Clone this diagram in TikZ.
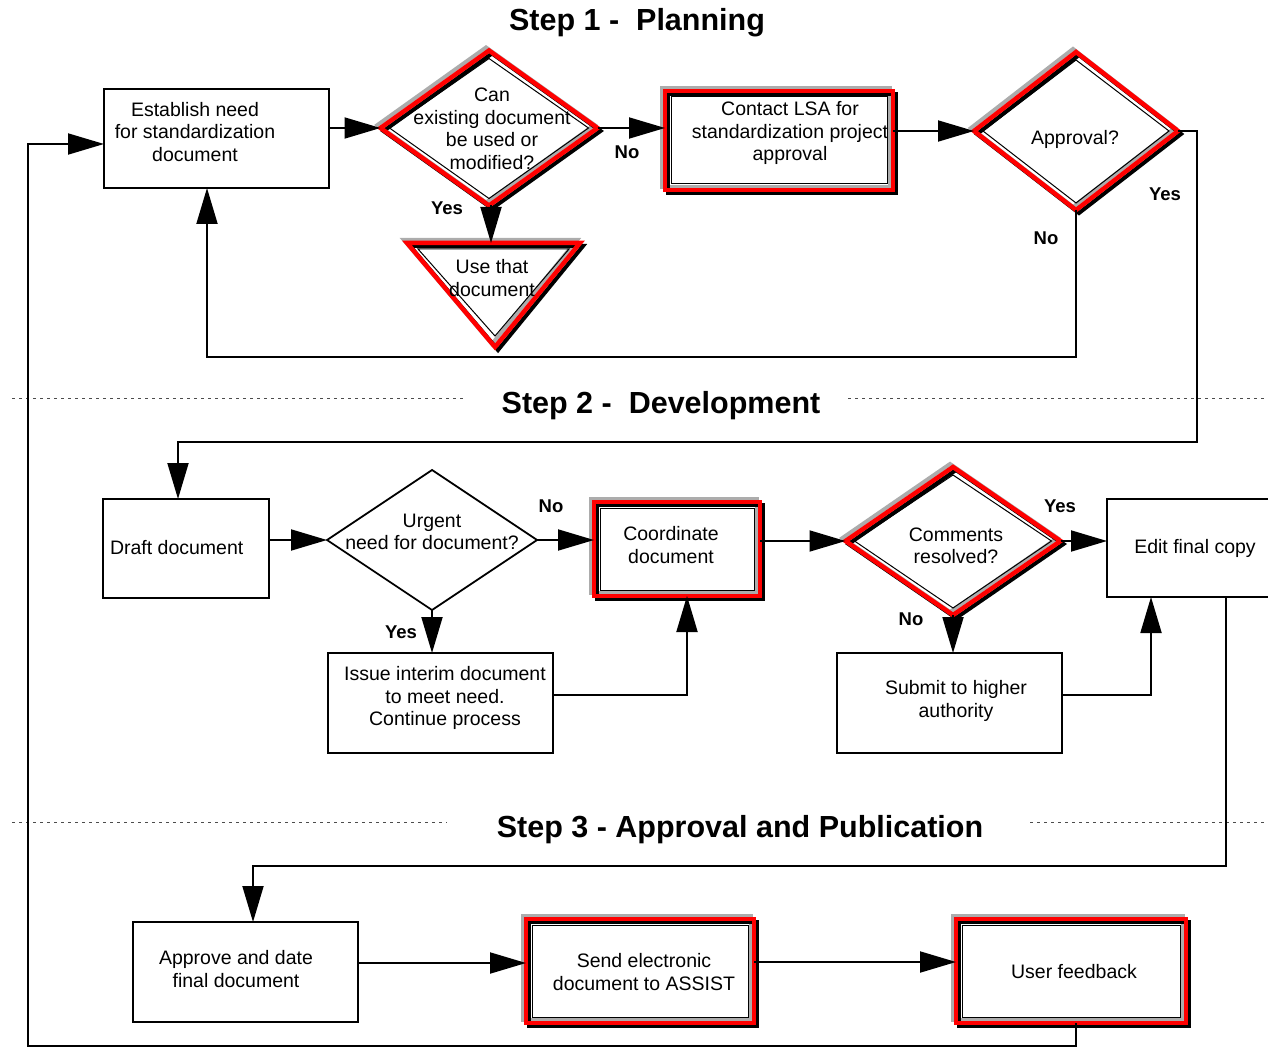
\documentclass[tikz,border=0pt]{standalone}
\usepackage{fontspec}
\setmainfont{Liberation Sans}
\usetikzlibrary{shapes.geometric,arrows.meta,fit}
\begin{document}
\begin{tikzpicture}[x=1pt,y=-1pt,
  every node/.style={inner sep=0pt, outer sep=0pt},
  box/.style={draw=black, line width=1.8pt},
  redframe/.style={draw=red, line width=4.5pt,
    preaction={draw=gray!65, line width=4pt, transform canvas={xshift=-3pt,yshift=3pt}},
    preaction={draw=black, line width=4pt, transform canvas={xshift=3pt,yshift=-3pt}}},
  innerline/.style={draw=black, line width=1pt},
  txt/.style={font=\fontsize{19.5}{22.5}\selectfont, align=center},
  lbl/.style={font=\fontsize{18.5}{22}\selectfont\bfseries},
  ttl/.style={font=\fontsize{30.5}{34}\selectfont\bfseries},
  arr/.style={line width=1.9pt, -{Triangle[length=36pt,width=21pt]}},
  sep/.style={line width=0.8pt, dash pattern=on 3pt off 4pt, draw=black!70}
]
\useasboundingbox (0,0) rectangle (1268,1048);
\clip (0,0) rectangle (1268,1048);

% separators and titles
\draw[sep] (12,398) -- (465,398);
\draw[sep] (848,398) -- (1268,398);
\draw[sep] (12,822) -- (447,822);
\draw[sep] (1030,822) -- (1268,822);
\node[ttl] (t1) at (637,23) {Step 1 - \ Planning};
\node[ttl] (t2) at (661,406) {Step 2 - \ Development};
\node[ttl] (t3) at (740,830) {Step 3 - Approval and Publication};

% ---------- Step 1 shapes
\node[box, fit={(104,89) (329,188)}] (est) {};
\node[redframe, diamond, minimum width=217pt, minimum height=155pt] (can) at (489,128) {};
\node[redframe, rectangle, fit={(665,91) (893,190)}] (lsa) {};
\node[redframe, diamond, minimum width=204pt, minimum height=158pt] (appr) at (1076,131) {};
\draw[redframe] (407,243) -- (580,243) -- (495,347) -- cycle;
\draw[innerline] (418,249) -- (569,249) -- (495,336) -- cycle;
\coordinate (usetop) at (491,243);

% ---------- Step 2 shapes
\node[box, fit={(103,499) (269,598)}] (draft) {};
\node[box, diamond, minimum width=210pt, minimum height=140pt] (urg) at (432,540) {};
\node[redframe, rectangle, fit={(594,502) (760,596)}] (coord) {};
\node[box, fit={(328,653) (553,753)}] (issue) {};
\node[redframe, diamond, minimum width=215pt, minimum height=148pt] (comm) at (953,541) {};
\node[box, fit={(837,653) (1062,753)}] (sub) {};
\node[box, fit={(1107,499) (1290,597)}] (edit) {};

% ---------- Step 3 shapes
\node[box, fit={(133,922) (358,1022)}] (apv) {};
\node[redframe, rectangle, fit={(526,919) (754,1023)}] (send) {};
\node[redframe, rectangle, fit={(956,919) (1186,1023)}] (feed) {};

% inner lines of framed shapes
\foreach \n in {lsa,coord,send,feed}
  \draw[innerline] ([shift={(6pt,-6pt)}]\n.north west) rectangle ([shift={(-6pt,6pt)}]\n.south east);
\foreach \n in {can,appr,comm}
  \draw[innerline] ([xshift=9pt]\n.west) -- ([yshift=-8pt]\n.north) -- ([xshift=-9pt]\n.east) -- ([yshift=7pt]\n.south) -- cycle;

% ---------- texts
\node[txt] (estt) at (195,132) {Establish need\\for standardization\\document};
\node[txt] (cant) at (492,129) {Can\\existing document\\be used or\\modified?};
\node[txt] (uset) at (492,278) {Use that\\document};
\node[txt] (lsat) at (790,133) {Contact LSA for\\standardization project\\approval};
\node[txt] (apprt) at (1075,139) {Approval?};
\node[txt, anchor=west] (draftt) at (110,548) {Draft document};
\node[txt] (urgt) at (432,532) {Urgent\\need for document?};
\node[txt] (coordt) at (671,545) {Coordinate\\document};
\node[txt] (issuet) at (445,698) {Issue interim document\\to meet need.\\Continue process};
\node[txt] (commt) at (956,546) {Comments\\resolved?};
\node[txt] (subt) at (956,701) {Submit to higher\\authority};
\node[txt] (editt) at (1195,548) {Edit final copy};
\node[txt] (apvt) at (236,969) {Approve and date\\final document};
\node[txt] (sendt) at (644,972) {Send electronic\\document to ASSIST};
\node[txt] (feedt) at (1074,972) {User feedback};

% labels
\node[lbl] (l1) at (627,152) {No};
\node[lbl] (l2) at (447,208) {Yes};
\node[lbl] (l3) at (1165,194) {Yes};
\node[lbl] (l4) at (1046,238) {No};
\node[lbl] (l5) at (551,506) {No};
\node[lbl] (l6) at (401,632) {Yes};
\node[lbl] (l7) at (1060,506) {Yes};
\node[lbl] (l8) at (911,619) {No};

% ---------- connectors
\coordinate (nocorner) at (207,357);
\coordinate (yes1) at (1197,131);
\coordinate (yes2) at (1197,442);
\coordinate (yes3) at (178,442);
\coordinate (ic) at (687,695);
\coordinate (sc) at (1151,695);
\coordinate (ec) at (1226,866);
\coordinate (ec2) at (253,866);
\coordinate (fb1) at (1076,1046);
\coordinate (fb2) at (28,1046);
\coordinate (fb3) at (28,144);

\draw[arr] (est.east |- can.west) -- (can.west);
\draw[arr] (can.east) -- (can.east -| lsa.west);
\draw[arr] (lsa.east |- appr.west) -- (appr.west);
\draw[arr] (usetop |- can.south) -- (usetop);
\draw[arr] (appr.south) |- (nocorner) -- (nocorner |- est.south);
\draw[arr] (appr.east) -- (yes1) -- (yes2) -- (yes3) -- (yes3 |- draft.north);

\draw[arr] (draft.east |- urg.west) -- (urg.west);
\draw[arr] (urg.east) -- (urg.east -| coord.west);
\draw[arr] (urg.south) -- (urg.south |- issue.north);
\draw[arr] (issue.east |- ic) -- (ic) -- (ic |- coord.south);
\draw[arr] (coord.east |- comm.west) -- (comm.west);
\draw[arr] (comm.east) -- (comm.east -| edit.west);
\draw[arr] (comm.south) -- (comm.south |- sub.north);
\draw[arr] (sub.east |- sc) -- (sc) -- (sc |- edit.south);
\draw[arr] (ec |- edit.south) -- (ec) -- (ec2) -- (ec2 |- apv.north);

\draw[arr] ([yshift=9pt]apv.east) -- ([yshift=9pt]apv.east -| send.west);
\draw[arr] ([yshift=9pt]send.east) -- ([yshift=9pt]send.east -| feed.west);
\draw[arr] (fb1 |- feed.south) -- (fb1) -- (fb2) -- (fb3) -- (fb3 -| est.west);
\end{tikzpicture}
\end{document}
